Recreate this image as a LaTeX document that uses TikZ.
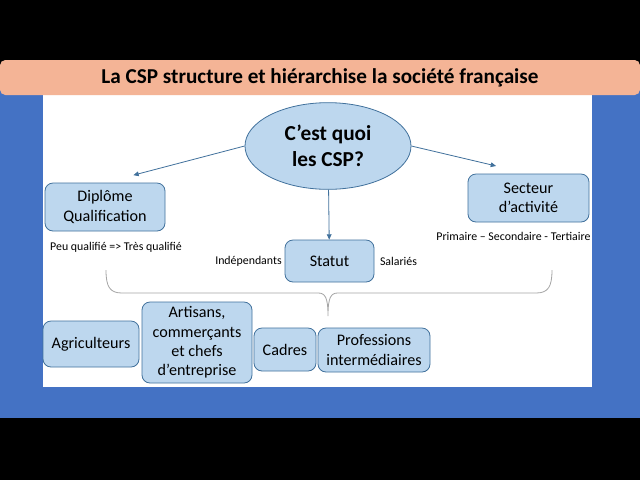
\documentclass[tikz,border=0pt]{standalone}
\usepackage{fontspec}
\setmainfont{Carlito}
\usetikzlibrary{arrows.meta,positioning,shapes.geometric}
\definecolor{cspblue}{HTML}{4472C4}
\definecolor{cspfill}{HTML}{BDD7EE}
\definecolor{cspedge}{HTML}{41719C}
\definecolor{cspsalmon}{HTML}{F4B496}
\definecolor{cspgrey}{HTML}{A5A5A5}

\begin{document}
\begin{tikzpicture}[
  x=0.75pt, y=-0.75pt,
  box/.style={draw=cspedge, fill=cspfill, rounded corners=6pt, line width=0.6pt, inner sep=2pt, align=center,
    font=\fontsize{12.1}{14.4}\selectfont},
  lbl/.style={inner sep=0pt, font=\fontsize{8.9}{10.5}\selectfont},
  arr/.style={-{Triangle[length=4pt, width=3.5pt]}, cspedge, line width=0.6pt},
  brace/.style={cspgrey, line width=0.6pt},
]
% slide frame
\fill[black] (0,0) rectangle (640,480);
\useasboundingbox (0,0) rectangle (640,480);
\fill[cspblue] (0,70) rectangle (640,418);
\fill[white] (43,95) rectangle (592,387);
\node[fill=cspsalmon, rounded corners=4pt, minimum width=480pt, minimum height=26.25pt, inner sep=0pt,
  font=\fontsize{15.9}{18}\selectfont\bfseries] (title) at (320,77.5)
  {La CSP structure et hiérarchise la société française};

% question and its three criteria
\node[box, ellipse, minimum width=124.5pt, minimum height=65pt,
  font=\fontsize{16}{19.5}\selectfont\bfseries] (csp) at (328,146) {C’est quoi\\les CSP?};
\node[box, minimum width=90pt, minimum height=36pt] (diplome) at (105,207) {Diplôme\\Qualification};
\node[box, minimum width=90.75pt, minimum height=36pt] (secteur) at (528.5,198) {Secteur\\d’activité};
\node[box, minimum width=66.75pt, minimum height=31.5pt] (statut) at (329.5,261) {Statut};

\node[lbl, below right=8pt and 4pt of diplome.south west] (qualif) {Peu qualifié => Très qualifié};
\node[lbl, below left=7pt and -1pt of secteur.south east] (secteurs) {Primaire – Secondaire - Tertiaire};
\node[lbl, left=2pt of statut] (indep) {Indépendants};
\node[lbl, right=4pt of statut] (salar) {Salariés};

% the categories
\node[box, minimum width=72pt, minimum height=34.5pt] (agri) at (91,344) {Agriculteurs};
\node[box, minimum width=82.5pt, minimum height=60.75pt] (artisans) at (197,342.5) {Artisans,\\commerçants\\et chefs\\d’entreprise};
\node[box, minimum width=46.5pt, minimum height=32.25pt] (cadres) at (285,349.5) {Cadres};
\node[box, minimum width=84pt, minimum height=33pt] (prof) at (374,350) {Professions\\intermédiaires};

\draw[arr, shorten >=22pt] (csp.west) -- (diplome.north);
\draw[arr, shorten >=25pt] (csp.east) -- (secteur.north);
\draw[arr] (csp) -- (statut);

% brace over the categories
\coordinate (bl) at (106,270);
\coordinate (br) at (552,270);
\coordinate (tip) at (328,316);
\draw[brace] (bl) .. controls (106,287) and (110,293) .. (122,293) -- (318,293)
  .. controls (325,293) and (328,297) .. (tip)
  .. controls (328,297) and (331,293) .. (338,293) -- (536,293)
  .. controls (548,293) and (552,287) .. (br);
\end{tikzpicture}
\end{document}
